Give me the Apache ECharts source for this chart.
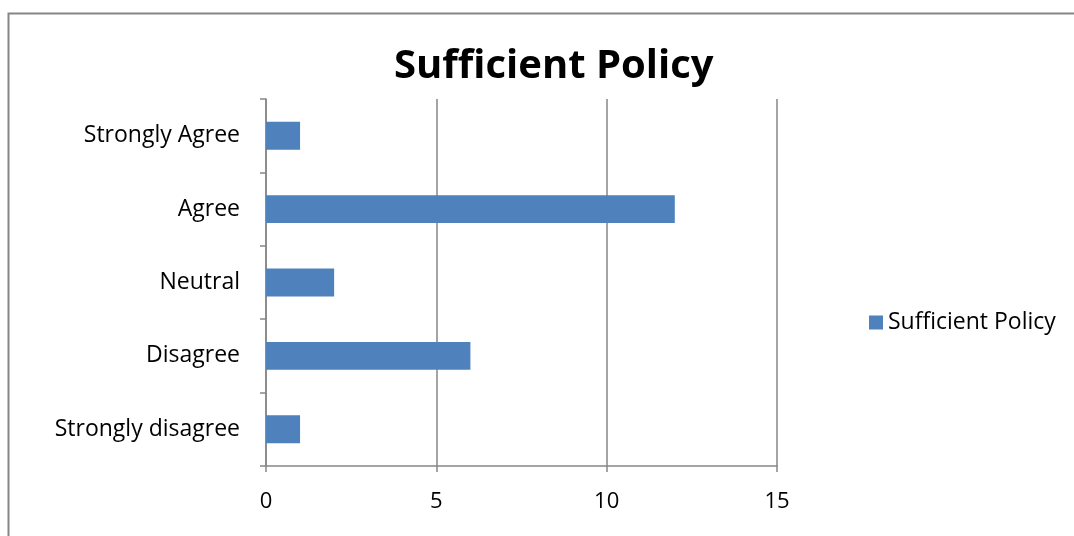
<!DOCTYPE html>
<html>
<head>
<meta charset="utf-8">
<script src="https://cdn.jsdelivr.net/npm/echarts@6/dist/echarts.min.js"></script>
<style>
    html, body { margin:0; padding:0; background:#fff; }
</style>
</head>
<body>
<div id="chart" style="width:1074px;height:536px;"></div>
<script>
// categories listed bottom -> top (echarts category y axis starts at the bottom)
var categories = ['Strongly disagree', 'Disagree', 'Neutral', 'Agree', 'Strongly Agree'];
var values = [1, 6, 2, 12, 1];
var seriesName = 'Sufficient Policy';
var xTicks = [0, 5, 10, 15];

var font = '"Open Sans", "Noto Sans", sans-serif';
var chart = echarts.init(document.getElementById('chart'));

var option = {
    animation : false,
    backgroundColor : '#fff',
    title : {
        text : 'Sufficient Policy',
        left : 389,
        top : 42,
        textStyle : {
            fontFamily : font,
            fontSize : 40,
            fontWeight : 'bold',
            color : '#000'
        }
    },
    legend : {
        data : [{ name : seriesName, icon : 'rect' }],
        orient : 'vertical',
        left : 864,
        top : 306,
        itemWidth : 14,
        itemHeight : 14,
        itemGap : 8,
        textStyle : {
            fontFamily : font,
            fontSize : 23,
            color : '#000'
        }
    },
    grid : {
        left : 266,
        right : 297,
        top : 99,
        bottom : 70
    },
    xAxis : {
        type : 'value',
        min : xTicks[0],
        max : xTicks[xTicks.length - 1],
        interval : 5,
        axisLine : { show : true, lineStyle : { color : '#868686', width : 1.5 } },
        axisTick : { show : true, length : 6, lineStyle : { color : '#868686', width : 1.5 } },
        splitLine : { show : true, lineStyle : { color : '#868686', width : 1.5 } },
        axisLabel : {
            margin : 25,
            fontFamily : font,
            fontSize : 22,
            color : '#000'
        }
    },
    yAxis : {
        type : 'category',
        data : categories,
        axisLine : { show : true, lineStyle : { color : '#868686', width : 1.5 } },
        axisTick : { show : true, length : 6, alignWithLabel : false, lineStyle : { color : '#868686', width : 1.5 } },
        splitLine : { show : false },
        axisLabel : {
            margin : 26,
            fontFamily : font,
            fontSize : 23,
            color : '#000'
        }
    },
    series : [
        {
            name : seriesName,
            type : 'bar',
            barWidth : '38%',
            itemStyle : { color : '#4F81BD' },
            data : values
        }
    ],
    graphic : [
        {
            type : 'rect',
            shape : { x : 8.5, y : 13.5, width : 1100, height : 600 },
            style : { fill : null, stroke : '#868686', lineWidth : 2 },
            silent : true,
            z : -1
        }
    ]
};
chart.setOption(option);
</script>
</body>
</html>
